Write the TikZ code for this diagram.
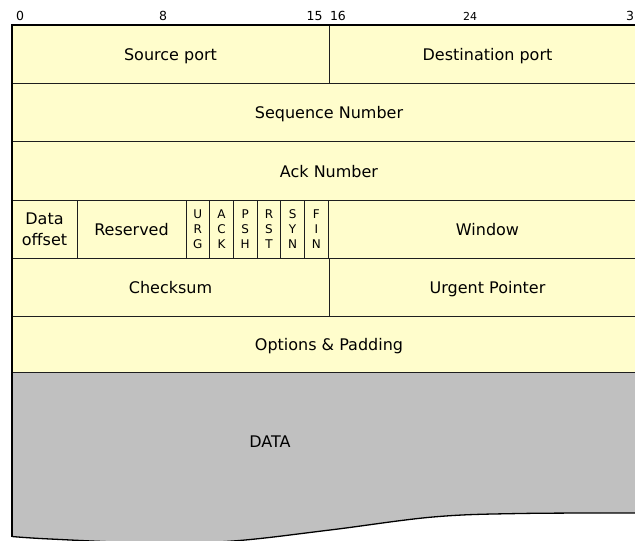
\documentclass[tikz,border=0pt]{standalone}
\usepackage{fontspec}
\setmainfont{DejaVu Sans}
\usepackage{tikz}
\usetikzlibrary{positioning, calc}
\definecolor{hdrfill}{RGB}{255,253,204}
\definecolor{datafill}{RGB}{192,192,192}
\definecolor{gridline}{RGB}{30,30,30}

\begin{document}
\begin{tikzpicture}[x=1pt, y=-1pt,
  field/.style={font=\fontsize{16}{21}\selectfont, anchor=base, inner sep=0pt},
  flag/.style={font=\fontsize{12}{15}\selectfont, align=center, inner sep=0pt},
  bitnum/.style={font=\fontsize{12.5}{14}\selectfont, anchor=base, inner sep=0pt},
  cell/.style={draw=gridline, line width=0.7pt},
  edge/.style={draw=black, line width=1.3pt}]
\useasboundingbox (0,0) rectangle (635,541);
\fill[white] (0,0) rectangle (635,541);
\clip (0,0) rectangle (635,541);

% header and data areas
\fill[hdrfill] (12,25) rectangle (646,372);
\fill[datafill] (12,372) -- (646,372) -- (646,513) -- plot[smooth, tension=.6] coordinates {(646,513) (520,513.5) (433,517) (330,530) (233,541) (150,543) (50,539) (12,536.5)} -- cycle;

% rows
\foreach \y in {83,141.5,200.5,258.5,316,372}
  \draw[cell] (12,\y) -- (646,\y);
\draw[cell] (329,25) -- (329,83);
\draw[cell] (329,258.5) -- (329,316);
\foreach \x in {77,186,209.7,233.3,257,280.7,304.3,328}
  \draw[cell] (\x,200.5) -- (\x,258.5);

% outline
\draw[edge] (646,25) -- (12,25) -- (12,536.5);
\draw[edge] plot[smooth, tension=.6] coordinates {(12,536.5) (50,539) (150,543) (233,541) (330,530) (433,517) (520,513.5) (646,513)};

% bit numbers
\node[bitnum] (b0) at (20,20) {0};
\node[bitnum] (b8) at (163,20) {8};
\node[bitnum] (b15) at (314.5,20) {15};
\node[bitnum] (b16) at (338,20) {16};
\node[bitnum, font=\fontsize{11}{13}\selectfont] (b24) at (470,20) {24};
\node[bitnum, anchor=base west] (b31) at (626,20) {31};

% fields
\node[field] (srcport) at (170.5,60) {Source port};
\node[field] (dstport) at (487.5,60) {Destination port};
\node[field] (seqnum) at (329,118.5) {Sequence Number};
\node[field] (acknum) at (329,177) {Ack Number};
\node[field, anchor=center, align=center] (offset) at (44.5,229.5) {Data\\offset};
\node[field] (reserved) at (131.5,235.5) {Reserved};
\foreach \f [count=\i from 0] in {{U\\R\\G},{A\\C\\K},{P\\S\\H},{R\\S\\T},{S\\Y\\N},{F\\I\\N}}
  \node[flag] (flag\i) at (197.85+23.7*\i,229.5) {\f};
\node[field] (window) at (487.5,235.5) {Window};
\node[field] (checksum) at (170.5,293.5) {Checksum};
\node[field] (urgptr) at (487.5,293.5) {Urgent Pointer};
\node[field] (options) at (329,350.5) {Options \& Padding};
\node[field] (data) at (270,447) {DATA};
\end{tikzpicture}
\end{document}
